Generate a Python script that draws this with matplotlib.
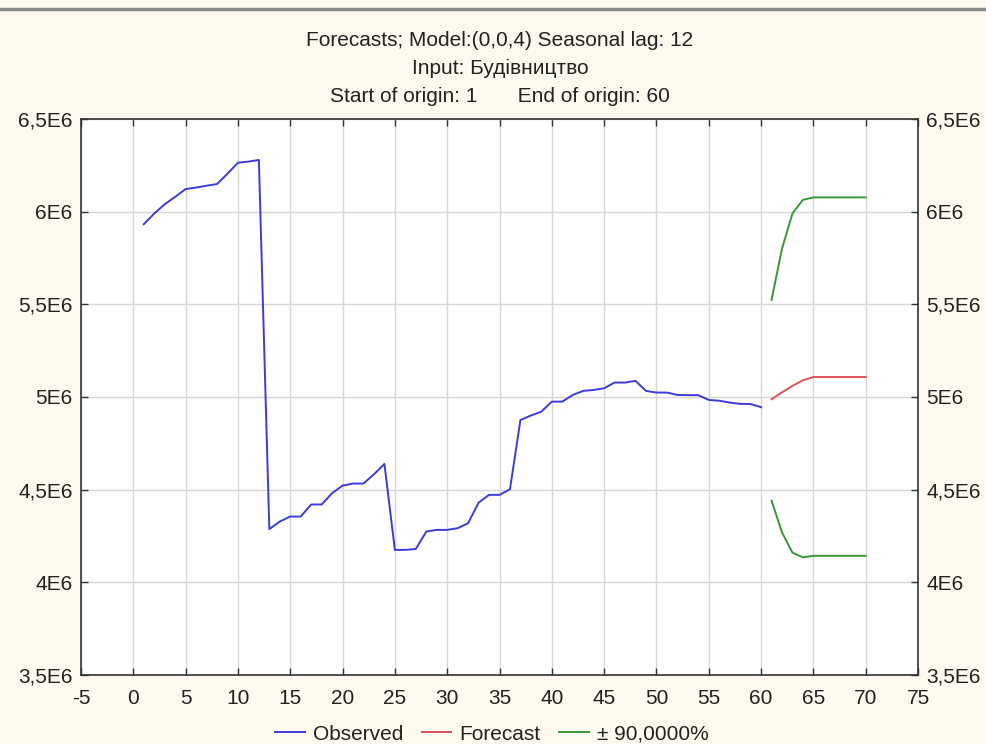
import matplotlib
matplotlib.use("Agg")
import matplotlib.pyplot as plt
from matplotlib.ticker import FuncFormatter, MultipleLocator
from matplotlib.lines import Line2D

plt.rcParams['font.family'] = ['Liberation Sans', 'DejaVu Sans']

# ---- data ----
obs_t = list(range(1, 61))
observed = [5.932e6, 5.99e6, 6.04e6, 6.08e6, 6.122e6, 6.13e6, 6.14e6, 6.149e6, 6.205e6, 6.264e6,
            6.27e6, 6.279e6, 4.287e6, 4.328e6, 4.355e6, 4.355e6, 4.42e6, 4.42e6, 4.481e6, 4.522e6,
            4.533e6, 4.533e6, 4.583e6, 4.639e6, 4.175e6, 4.175e6, 4.18e6, 4.274e6, 4.283e6, 4.283e6,
            4.292e6, 4.319e6, 4.43e6, 4.472e6, 4.472e6, 4.502e6, 4.876e6, 4.90e6, 4.921e6, 4.975e6,
            4.975e6, 5.011e6, 5.033e6, 5.038e6, 5.047e6, 5.078e6, 5.078e6, 5.087e6, 5.033e6, 5.024e6,
            5.024e6, 5.011e6, 5.01e6, 5.01e6, 4.984e6, 4.98e6, 4.97e6, 4.963e6, 4.962e6, 4.945e6]
fc_t = list(range(61, 71))
forecast = [4.988e6, 5.025e6, 5.06e6, 5.09e6, 5.108e6, 5.108e6, 5.108e6, 5.108e6, 5.108e6, 5.108e6]
upper = [5.524e6, 5.80e6, 5.99e6, 6.064e6, 6.077e6, 6.077e6, 6.077e6, 6.077e6, 6.077e6, 6.077e6]
lower = [4.441e6, 4.27e6, 4.16e6, 4.135e6, 4.143e6, 4.143e6, 4.143e6, 4.143e6, 4.143e6, 4.143e6]

title_lines = ["Forecasts; Model:(0,0,4) Seasonal lag: 12",
               "Input: Будівництво",
               "Start of origin: 1       End of origin: 60"]
legend_labels = ["Observed", "Forecast", "± 90,0000%"]

blue = "#3c3cd8"
red = "#e0505a"
green = "#3a963a"
bg = "#fdf9ee"
FS = 15

W, H = 986, 744
fig = plt.figure(figsize=(W / 100, H / 100), dpi=100, facecolor=bg)
ax = fig.add_axes([81 / W, 1 - 675 / H, 837 / W, 556 / H])
ax.set_facecolor("white")

ax.plot(obs_t, observed, color=blue, lw=1.4)
ax.plot(fc_t, forecast, color=red, lw=1.4)
ax.plot(fc_t, upper, color=green, lw=1.4)
ax.plot(fc_t, lower, color=green, lw=1.4)

ax.set_xlim(-5, 75)
ax.set_ylim(3.5e6, 6.5e6)
ax.xaxis.set_major_locator(MultipleLocator(5))
ax.yaxis.set_major_locator(MultipleLocator(0.5e6))


def yfmt(v, pos):
    m = v / 1e6
    if abs(m - round(m)) < 1e-9:
        s = f"{int(round(m))}"
    else:
        s = f"{m:.1f}".replace(".", ",")
    return s + "E6"


ax.yaxis.set_major_formatter(FuncFormatter(yfmt))
ax.xaxis.set_major_formatter(FuncFormatter(lambda v, p: f"{int(round(v))}"))
ax.grid(True, color="#d6d6d6", lw=1.0)
ax.set_axisbelow(True)
ax.tick_params(axis='both', direction='in', length=5, width=1, colors="#333333",
               labelcolor="#222222", labelsize=FS, top=True, right=True, labelright=True)
ax.tick_params(axis='x', pad=10)
ax.tick_params(axis='y', pad=6)
for sp in ax.spines.values():
    sp.set_color("#333333")
    sp.set_linewidth(1.2)

for i, (t, yp) in enumerate(zip(title_lines, [40, 68, 96])):
    fig.text(500 / W, 1 - yp / H, t, ha="center", va="center", fontsize=FS, color="#222222")

# top grey rule
fig.add_artist(Line2D([0, 1], [1 - 9 / H, 1 - 9 / H], color="#8c8c8c", lw=2.5,
                      transform=fig.transFigure))

handles = [Line2D([], [], color=blue, lw=1.4), Line2D([], [], color=red, lw=1.4),
           Line2D([], [], color=green, lw=1.4)]
fig.legend(handles, legend_labels, loc="center", bbox_to_anchor=(492 / W, 1 - 734 / H),
           ncol=3, frameon=False, fontsize=FS, handlelength=1.4, handletextpad=0.4,
           columnspacing=0.9, labelcolor="#222222", borderpad=0.1)

fig.savefig("out.png", dpi=100, facecolor=bg)
